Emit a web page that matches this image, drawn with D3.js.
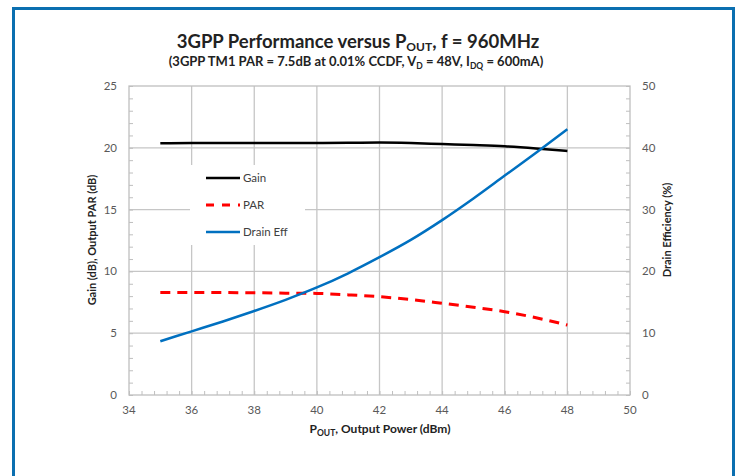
<!DOCTYPE html>
<html>
<head>
<meta charset="utf-8">
<script src="https://cdn.jsdelivr.net/npm/d3@7"></script>
<style>
  body { margin: 0; background: #fff; }
  text { font-family: Lato, "Open Sans", sans-serif; }
</style>
</head>
<body>
<div id="chart-area"></div>
<script>
// values
var pout = [35, 36, 37, 38, 39, 40, 41, 42, 43, 44, 45, 46, 47, 48];
var gain = [20.36, 20.38, 20.38, 20.38, 20.38, 20.38, 20.40, 20.42, 20.38, 20.30, 20.22, 20.12, 19.95, 19.74];
var par  = [8.30, 8.30, 8.29, 8.27, 8.24, 8.22, 8.10, 7.95, 7.72, 7.42, 7.10, 6.74, 6.25, 5.66];
var eff  = [8.7, 10.3, 11.9, 13.6, 15.4, 17.4, 19.7, 22.3, 25.1, 28.3, 31.8, 35.5, 39.2, 43.0];

var xTicks = [34, 36, 38, 40, 42, 44, 46, 48, 50];
var yLeftTicks = [0, 5, 10, 15, 20, 25];
var yRightTicks = [0, 10, 20, 30, 40, 50];
var legendNames = ["Gain", "PAR", "Drain Eff"];

var W = 735, H = 476;
var svg = d3.select("#chart-area").append("svg")
    .attr("width", W)
    .attr("height", H);

// blue frame
svg.append("rect")
    .attr("x", 13.5).attr("y", 8.5)
    .attr("width", 720).attr("height", 500)
    .attr("fill", "none")
    .attr("stroke", "#0b6fb0")
    .attr("stroke-width", 3);

// plot area edges ("top" is taken by window.top, so use p* names)
var pLeft = 129, pRight = 630, pTop = 86, pBottom = 395;

var x = d3.scaleLinear().domain([34, 50]).range([pLeft, pRight]);
var yL = d3.scaleLinear().domain([0, 25]).range([pBottom, pTop]);
var yR = d3.scaleLinear().domain([0, 50]).range([pBottom, pTop]);

var gridColor = "#c6c6c6", axisColor = "#bfbfbf", labelColor = "#595959";

// gridlines
svg.append("g").selectAll("line")
    .data(yLeftTicks.slice(1, -1))
    .enter().append("line")
    .attr("x1", pLeft).attr("x2", pRight)
    .attr("y1", function(d){ return yL(d); })
    .attr("y2", function(d){ return yL(d); })
    .attr("stroke", gridColor).attr("stroke-width", 1.3);

svg.append("g").selectAll("line")
    .data(xTicks.slice(1, -1))
    .enter().append("line")
    .attr("y1", pTop).attr("y2", pBottom)
    .attr("x1", function(d){ return x(d); })
    .attr("x2", function(d){ return x(d); })
    .attr("stroke", gridColor).attr("stroke-width", 1.3);

// plot box
svg.append("rect")
    .attr("x", pLeft).attr("y", pTop)
    .attr("width", pRight - pLeft).attr("height", pBottom - pTop)
    .attr("fill", "none")
    .attr("stroke", axisColor).attr("stroke-width", 1.3);

// axes with inside minor ticks
var xAxis = d3.axisTop(x)
    .tickValues(d3.range(34, 50.01, 0.4))
    .tickSize(4).tickFormat("");
svg.append("g").attr("transform", "translate(0," + pBottom + ")").call(xAxis);

var yAxisL = d3.axisRight(yL).tickValues(d3.range(0, 25.01, 1)).tickSize(4).tickFormat("");
svg.append("g").attr("transform", "translate(" + pLeft + ",0)").call(yAxisL);

var yAxisR = d3.axisLeft(yR).tickValues(d3.range(0, 50.01, 2)).tickSize(4).tickFormat("");
svg.append("g").attr("transform", "translate(" + pRight + ",0)").call(yAxisR);

svg.selectAll(".domain").remove();
svg.selectAll(".tick line").attr("stroke", axisColor).attr("stroke-width", 1);

// tick labels
svg.append("g").selectAll("text")
    .data(xTicks).enter().append("text")
    .attr("x", function(d){ return x(d); })
    .attr("y", pBottom + 19)
    .attr("text-anchor", "middle")
    .attr("font-size", 11.5).attr("fill", labelColor)
    .text(function(d){ return d; });

svg.append("g").selectAll("text")
    .data(yLeftTicks).enter().append("text")
    .attr("x", pLeft - 12)
    .attr("y", function(d){ return yL(d) + 4; })
    .attr("text-anchor", "end")
    .attr("font-size", 11.5).attr("fill", labelColor)
    .text(function(d){ return d; });

svg.append("g").selectAll("text")
    .data(yRightTicks).enter().append("text")
    .attr("x", pRight + 12)
    .attr("y", function(d){ return yR(d) + 4; })
    .attr("text-anchor", "start")
    .attr("font-size", 11.5).attr("fill", labelColor)
    .text(function(d){ return d; });

// titles
var title = svg.append("text")
    .attr("x", 358).attr("y", 48)
    .attr("text-anchor", "middle")
    .attr("font-size", 18.5).attr("font-weight", "bold").attr("fill", "#222");
title.append("tspan").text("3GPP Performance versus P");
title.append("tspan").attr("font-size", 12).attr("dy", 3).text("OUT");
title.append("tspan").attr("dy", -3).text(", f = 960MHz");

var sub = svg.append("text")
    .attr("x", 356).attr("y", 66)
    .attr("text-anchor", "middle")
    .attr("font-size", 13).attr("font-weight", "bold").attr("fill", "#222");
sub.append("tspan").text("(3GPP TM1 PAR = 7.5dB at 0.01% CCDF, V");
sub.append("tspan").attr("font-size", 8.5).attr("dy", 3).text("D");
sub.append("tspan").attr("dy", -3).text(" = 48V, I");
sub.append("tspan").attr("font-size", 8.5).attr("dy", 3).text("DQ");
sub.append("tspan").attr("dy", -3).text(" = 600mA)");

var xt = svg.append("text")
    .attr("x", 380).attr("y", 433)
    .attr("text-anchor", "middle")
    .attr("font-size", 12).attr("font-weight", "bold").attr("fill", "#222");
xt.append("tspan").text("P");
xt.append("tspan").attr("font-size", 8.5).attr("dy", 3).text("OUT");
xt.append("tspan").attr("dy", -3).text(", Output Power (dBm)");

svg.append("text")
    .attr("transform", "translate(96,240) rotate(-90)")
    .attr("text-anchor", "middle")
    .attr("font-size", 11).attr("font-weight", "bold").attr("fill", "#222")
    .text("Gain (dB), Output PAR (dB)");

svg.append("text")
    .attr("transform", "translate(671,230) rotate(-90)")
    .attr("text-anchor", "middle")
    .attr("font-size", 11).attr("font-weight", "bold").attr("fill", "#222")
    .text("Drain Efficiency (%)");

// legend background hides gridlines
svg.append("rect")
    .attr("x", 190).attr("y", 165)
    .attr("width", 115).attr("height", 80)
    .attr("fill", "#fff");

// series
function lineFor(vals, scale) {
    return d3.line()
        .x(function(d, i){ return x(pout[i]); })
        .y(function(d){ return scale(d); })
        .curve(d3.curveMonotoneX)(vals);
}

var series = [
    { vals: gain, scale: yL, color: "#000000", dash: null, w: 2.5 },
    { vals: par, scale: yL, color: "#ff0000", dash: "10,7", w: 3 },
    { vals: eff, scale: yR, color: "#0070c0", dash: null, w: 2.5 }
];

series.forEach(function(s){
    svg.append("path")
        .attr("d", lineFor(s.vals, s.scale))
        .attr("fill", "none")
        .attr("stroke", s.color)
        .attr("stroke-width", s.w)
        .attr("stroke-dasharray", s.dash);
});

// legend
var leg = svg.append("g").selectAll("g")
    .data(series).enter().append("g")
    .attr("transform", function(d, i){ return "translate(206," + (178 + i * 27) + ")"; });

leg.append("line")
    .attr("x1", 0).attr("x2", 34)
    .attr("stroke", function(d){ return d.color; })
    .attr("stroke-width", function(d){ return d.w; })
    .attr("stroke-dasharray", function(d){ return d.dash ? "8,8" : null; });

leg.append("text")
    .attr("x", 37).attr("y", 4)
    .attr("font-size", 11.5).attr("fill", "#404040")
    .text(function(d, i){ return legendNames[i]; });
</script>
</body>
</html>
